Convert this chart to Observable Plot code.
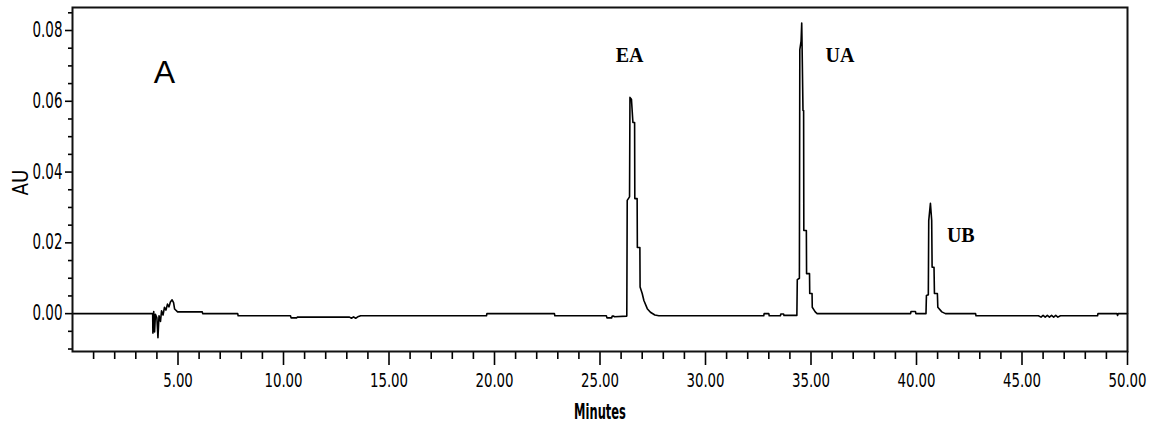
<!DOCTYPE html>
<html><head><meta charset="utf-8">
<script src="https://cdn.jsdelivr.net/npm/d3@7"></script>
<script src="https://cdn.jsdelivr.net/npm/@observablehq/plot@0.6"></script>
<style>html,body{margin:0;padding:0;background:#fff;}</style>
</head><body><div id="chart"></div>
<script>
// chromatogram trace: [minutes, AU]
const trace = [
  [0, 0], [3.80, 0], [3.81, -0.0055], [3.85, 0.0006], [3.89, -0.0052], [3.93, -0.0002],
  [4.00, -0.0012], [4.05, -0.0068], [4.10, -0.0006], [4.17, -0.0022], [4.22, 0.0008],
  [4.29, -0.0004], [4.36, 0.0018], [4.43, 0.0010], [4.50, 0.0027], [4.57, 0.0019],
  [4.64, 0.0033], [4.72, 0.0039], [4.79, 0.0031], [4.84, 0.0013], [4.98, 0.0005],
  [6.15, 0.0005], [6.17, 0.0], [7.83, 0.0], [7.85, -0.0006], [10.33, -0.0006],
  [10.36, -0.0012], [10.62, -0.0012], [10.65, -0.0010], [13.13, -0.0010], [13.22, -0.0013],
  [13.32, -0.0009], [13.42, -0.0013], [13.52, -0.0009], [13.66, -0.0006], [19.62, -0.0006],
  [19.64, 0.0], [22.84, 0.0], [22.86, -0.0006], [25.30, -0.0006], [25.33, -0.0012],
  [25.55, -0.0012], [25.58, -0.0007], [25.65, -0.0007], [25.68, -0.0009], [26.27, -0.0007],
  // EA
  [26.29, 0.0320], [26.40, 0.0330], [26.42, 0.0611], [26.49, 0.0606], [26.56, 0.0540],
  [26.64, 0.0540], [26.65, 0.0325], [26.76, 0.0325], [26.77, 0.0187], [26.89, 0.0187],
  [26.90, 0.0075], [27.00, 0.0057], [27.08, 0.0037], [27.24, 0.0014], [27.39, 0.0004],
  [27.60, -0.0004], [27.79, -0.0006],
  [32.76, -0.0006], [32.78, 0.0], [33.00, 0.0], [33.02, -0.0006], [33.55, -0.0006],
  [33.57, -0.0001], [33.70, -0.0001], [33.72, -0.0005], [34.33, -0.0005],
  // UA
  [34.35, 0.0096], [34.45, 0.0100], [34.47, 0.0746], [34.53, 0.0770], [34.56, 0.0821],
  [34.58, 0.0746], [34.62, 0.0574], [34.65, 0.0574], [34.66, 0.0235], [34.78, 0.0235],
  [34.79, 0.0113], [34.93, 0.0113], [34.94, 0.0057], [35.05, 0.0057], [35.06, 0.0018],
  [35.20, 0.0005], [35.29, 0.0],
  [39.72, 0.0], [39.74, 0.0006], [39.95, 0.0006], [39.97, 0.0], [40.45, 0.0],
  // UB
  [40.47, 0.0051], [40.56, 0.0053], [40.58, 0.0263], [40.66, 0.0312], [40.72, 0.0263],
  [40.74, 0.0131], [40.83, 0.0131], [40.85, 0.0057], [40.99, 0.0057], [41.01, 0.0018],
  [41.20, 0.0005], [41.37, 0.0],
  [42.80, 0.0], [42.82, -0.0006], [45.78, -0.0006], [45.90, -0.0010], [46.00, -0.0005],
  [46.10, -0.0010], [46.20, -0.0005], [46.30, -0.0010], [46.40, -0.0005], [46.50, -0.0010],
  [46.60, -0.0005], [46.70, -0.0010], [46.82, -0.0006], [48.58, -0.0006], [48.60, 0.0],
  [49.50, 0.0], [49.53, -0.0005], [49.56, 0.0], [50, 0.0]
];

const peakNames = ["EA", "UA", "UB"];
const peakMinutes = [26.40, 36.37, 42.10];
const peakAU = [0.0728, 0.0728, 0.0220];

const xMajorTicks = [5, 10, 15, 20, 25, 30, 35, 40, 45, 50];
const xMinorTicks = [1, 2, 3, 4, 6, 7, 8, 9, 11, 12, 13, 14, 16, 17, 18, 19, 21, 22, 23, 24,
  26, 27, 28, 29, 31, 32, 33, 34, 36, 37, 38, 39, 41, 42, 43, 44, 46, 47, 48, 49];
const yMajorTicks = [0, 0.02, 0.04, 0.06, 0.08];
const yMinorTicks = [-0.01, -0.005, 0.005, 0.01, 0.015, 0.025, 0.03, 0.035, 0.045, 0.05,
  0.055, 0.065, 0.07, 0.075, 0.085];

const panelLabel = "A";
const xLabel = "Minutes";
const yLabel = "AU";

const peaks = peakNames.map((name, i) => ({name, t: peakMinutes[i], v: peakAU[i]}));
const narrow = "'DejaVu Sans Condensed', 'DejaVu Sans', sans-serif";

const chart = Plot.plot({
  width: 1154, height: 426,
  marginLeft: 72, marginRight: 27, marginTop: 7, marginBottom: 75,
  style: {background: "#fff", color: "#000", fontFamily: narrow, fontSize: "19px"},
  x: {domain: [0, 50]},
  y: {domain: [-0.0107, 0.0865]},
  marks: [
    Plot.axisX(xMinorTicks, {tickSize: 8, tickFormat: () => "", strokeWidth: 1.6, label: null}),
    Plot.axisX(xMajorTicks, {tickSize: 14, tickPadding: 8, tickFormat: d => d.toFixed(2),
      strokeWidth: 1.6, fontSize: 19, fontFamily: narrow, label: null}),
    Plot.axisY(yMinorTicks, {tickSize: 4, tickFormat: () => "", strokeWidth: 1.6, label: null}),
    Plot.axisY(yMajorTicks, {tickSize: 7, tickPadding: 3, tickFormat: d => d.toFixed(2),
      strokeWidth: 1.6, fontSize: 20.5, fontFamily: narrow, label: null}),
    Plot.line(trace, {x: d => d[0], y: d => d[1], stroke: "#000", strokeWidth: 1.6}),
    Plot.frame({stroke: "#111", strokeWidth: 2}),
    Plot.text(peaks, {x: "t", y: "v", text: "name", fontSize: 20, fontWeight: "bold",
      fontFamily: "'Liberation Serif', 'DejaVu Serif', serif", textAnchor: "middle", lineAnchor: "middle"}),
    Plot.text([panelLabel], {text: d => d, frameAnchor: "top-left", dx: 92, dy: 65, fontSize: 32,
      fontFamily: "'Liberation Sans', Arial, sans-serif", textAnchor: "middle", lineAnchor: "middle"}),
    Plot.text([yLabel], {text: d => d, frameAnchor: "left", dx: -52, dy: 3, rotate: -90,
      fontSize: 22, fontFamily: narrow, textAnchor: "middle", lineAnchor: "middle"}),
    Plot.text([xLabel], {text: d => d, frameAnchor: "bottom", dy: 60, fontSize: 22, fontWeight: "bold",
      fontFamily: narrow, textAnchor: "middle", lineAnchor: "middle"})
  ]
});
document.getElementById("chart").appendChild(chart);

// condense the axis typography horizontally, like the instrument's narrow font
function condense(selection, factor) {
  selection.each(function () {
    const len = this.getComputedTextLength();
    if (len > 0) {
      this.setAttribute("textLength", (len * factor).toFixed(1));
      this.setAttribute("lengthAdjust", "spacingAndGlyphs");
    }
  });
}
const svg = d3.select(chart);
condense(svg.selectAll('g[aria-label="x-axis tick label"] text'), 0.78);
condense(svg.selectAll('g[aria-label="y-axis tick label"] text'), 0.73);
condense(svg.selectAll("text").filter(function () { return this.textContent === xLabel; }), 0.58);
condense(svg.selectAll("text").filter(function () { return this.textContent === yLabel; }), 0.92);
</script>
</body></html>
